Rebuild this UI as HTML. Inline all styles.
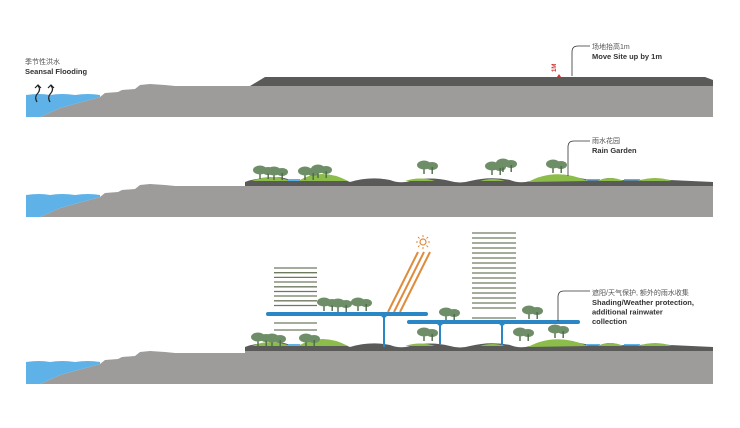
<!DOCTYPE html>
<html><head><meta charset="utf-8"><style>
html,body{margin:0;padding:0;background:#fff;}
svg{display:block}
.cn{font-family:"Liberation Sans","Noto Sans CJK SC",sans-serif;font-size:7px;fill:#555}
.en{font-family:"Liberation Sans",sans-serif;font-size:7.5px;font-weight:bold;fill:#333}
</style></head><body>
<svg width="740" height="428" viewBox="0 0 740 428" xmlns="http://www.w3.org/2000/svg">
<defs>
<g id="base">
  <path d="M40,117 L60,108 L100,97 L105,93 L118,92 L122,90 L135,89 L140,85 L150,84 L165,85 L175,86 L250,86 L713,86 L713,117 Z" fill="#9d9c9a"/>
  <path d="M26,95 Q40,93 50,95 Q62,93 75,95 Q88,93 100,95 L100,97 L60,108 L40,117 L26,117 Z" fill="#5fb2e8"/>
</g>
<g id="tree">
  <rect x="-0.7" y="0" width="1.4" height="8" fill="#4d6a48"/>
  <ellipse cx="0" cy="-1" rx="7" ry="4.5" fill="#6e8e68"/>
  <ellipse cx="8" cy="0" rx="6" ry="4" fill="#6e8e68"/>
  <rect x="7.5" y="1" width="1.4" height="7" fill="#4d6a48"/>
</g>
<g id="ground2">
  <path d="M245,186 L245,182 Q255,178 265,179 Q280,175 290,180 L300,180 Q320,172 345,180 L350,182 Q370,176 390,180 Q400,184 410,181 Q430,176 450,181 Q460,184 470,181 Q490,176 510,180 Q520,184 530,181 Q555,172 585,179 L600,180 Q610,176 620,180 L640,180 Q655,177 670,180 L713,182 L713,186 Z" fill="#5a5a58"/>
  <path d="M252,181 Q270,173 290,181 Z M298,181 Q322,167 348,181 Z M528,182 Q555,167 588,181 Z M598,181 Q610,175 624,181 Z M638,181 Q655,175 672,181 Z M405,181 Q420,176 435,181 Z M480,181 Q492,177 505,181 Z" fill="#8cbd4a"/>
  <rect x="288" y="179" width="12" height="2" fill="#5fb2e8"/>
  <rect x="586" y="179" width="14" height="1.5" fill="#5fb2e8"/>
  <rect x="624" y="179" width="16" height="1.5" fill="#5fb2e8"/>
  <rect x="245" y="186" width="468" height="31" fill="#9d9c9a"/>
</g>
</defs>

<!-- Panel 1 -->
<use href="#base"/>
<path d="M250,86 L265,77 L705,77 L713,80 L713,86 Z" fill="#5a5a58"/>
<path d="M37,102 Q34,97 38,93 Q41,89 38,86 M50,102 Q47,97 51,93 Q54,89 51,86" stroke="#222" stroke-width="1.2" fill="none"/>
<path d="M35,88 L38,85 L41,88 M48,88 L51,85 L54,88" stroke="#222" stroke-width="1.2" fill="none"/>
<text x="25" y="64" class="cn">季节性洪水</text>
<text x="25" y="74" class="en">Seansal Flooding</text>
<path d="M572,76 L572,52 Q572,46 578,46 L590,46" stroke="#333" stroke-width="0.8" fill="none"/>
<text x="592" y="49" class="cn">场地抬高1m</text>
<text x="592" y="59" class="en">Move Site up by 1m</text>
<text x="0" y="0" transform="translate(556,72) rotate(-90)" style="font-family:'Liberation Sans',sans-serif;font-size:6px;fill:#d03030;font-weight:bold">1M</text>
<path d="M557,77 L559,74 L561,77 Z" fill="#d03030"/>

<!-- Panel 2 -->
<use href="#base" transform="translate(0,100)"/>
<use href="#ground2"/>
<use href="#tree" transform="translate(260,171)"/>
<use href="#tree" transform="translate(274,172)"/>
<use href="#tree" transform="translate(305,172)"/>
<use href="#tree" transform="translate(318,170)"/>
<use href="#tree" transform="translate(424,166)"/>
<use href="#tree" transform="translate(492,167)"/>
<use href="#tree" transform="translate(503,164)"/>
<use href="#tree" transform="translate(553,165)"/>
<path d="M568,176 L568,147 Q568,141 574,141 L590,141" stroke="#333" stroke-width="0.8" fill="none"/>
<text x="592" y="143" class="cn">雨水花园</text>
<text x="592" y="153" class="en">Rain Garden</text>

<!-- Panel 3 -->
<use href="#base" transform="translate(0,267)"/>
<use href="#ground2" transform="translate(0,165)"/>
<g stroke="#6e7a60" stroke-width="1.3">
  <path d="M274,268H317M274,272.7H317M274,277.4H317M274,282H317M274,286.8H317M274,291.5H317M274,296H317M274,300.8H317M274,305.5H317M274,323H317M274,330H317"/>
  <path d="M472,233H516M472,238H516M472,243H516M472,248H516M472,253H516M472,258H516M472,263H516M472,268H516M472,273H516M472,278H516M472,283H516M472,288H516M472,293H516M472,298H516M472,303H516M472,308H516M472,318H516"/>
</g>
<g stroke="#e08a3c" stroke-width="2">
  <path d="M388,312L418,252M394,312L424,252M400,312L430,252"/>
</g>
<circle cx="423" cy="242" r="3" fill="none" stroke="#e08a3c" stroke-width="1.2"/>
<g stroke="#e08a3c" stroke-width="1"><path d="M423,235V237M423,247V249M416,242H418M428,242H430M418,237L419.5,238.5M426.5,245.5L428,247M428,237L426.5,238.5M418,247L419.5,245.5"/></g>
<use href="#tree" transform="translate(324,303)"/>
<use href="#tree" transform="translate(338,304)"/>
<use href="#tree" transform="translate(358,303)"/>
<use href="#tree" transform="translate(446,313)"/>
<use href="#tree" transform="translate(529,311)"/>
<rect x="266" y="312" width="162" height="4" rx="2" fill="#2a86c4"/>
<rect x="407" y="320" width="173" height="4" rx="2" fill="#2a86c4"/>
<g fill="#2a86c4">
  <rect x="383" y="314" width="2" height="33"/><path d="M378,315 Q384,316 384,322 Q384,316 390,315Z"/>
  <rect x="439" y="322" width="2" height="22"/><path d="M434,323 Q440,324 440,330 Q440,324 446,323Z"/>
  <rect x="501" y="322" width="2" height="23"/><path d="M496,323 Q502,324 502,330 Q502,324 508,323Z"/>
</g>
<use href="#tree" transform="translate(258,338)"/>
<use href="#tree" transform="translate(272,339)"/>
<use href="#tree" transform="translate(306,339)"/>
<use href="#tree" transform="translate(424,333)"/>
<use href="#tree" transform="translate(520,333)"/>
<use href="#tree" transform="translate(555,330)"/>
<path d="M558,321 L558,297 Q558,291 564,291 L590,291" stroke="#333" stroke-width="0.8" fill="none"/>
<text x="592" y="295" class="cn">遮阳/天气保护, 额外的雨水收集</text>
<text x="592" y="305" class="en">Shading/Weather protection,</text>
<text x="592" y="314.5" class="en">additional rainwater</text>
<text x="592" y="324" class="en">collection</text>
</svg>
</body></html>
